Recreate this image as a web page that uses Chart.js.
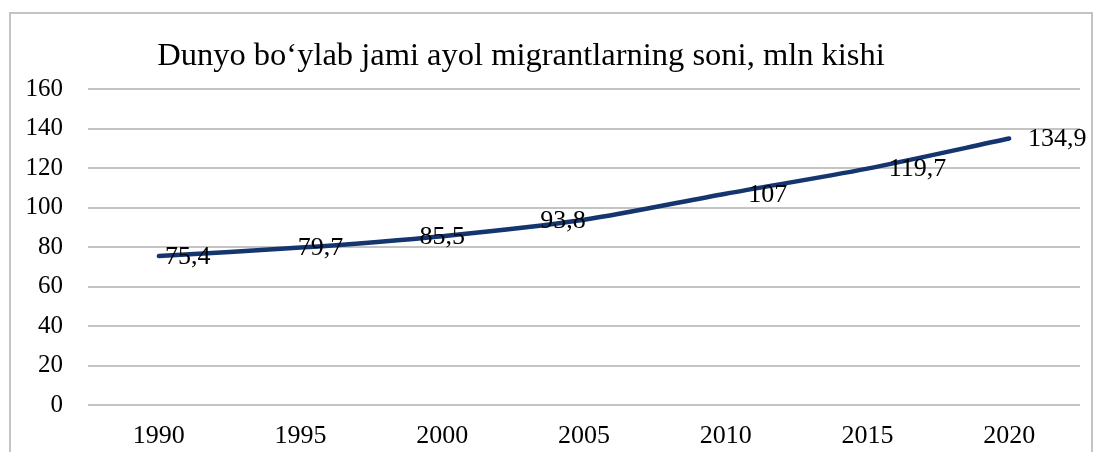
<!DOCTYPE html>
<html>
<head>
<meta charset="utf-8">
<script src="https://cdn.jsdelivr.net/npm/chart.js@4"></script>
<style>
    html, body { margin: 0; padding: 0; background: #fff; }
    #wrap { position: relative; width: 1095px; height: 452px; overflow: hidden; }
    #frame { position: absolute; left: 9px; top: 12px; width: 1084px; height: 460px; border: 2px solid #c4c4c4; box-sizing: border-box; }
    #chart { position: absolute; left: 0; top: 0; }
</style>
</head>
<body>
<div id="wrap">
    <div id="frame"></div>
    <canvas id="chart" width="1095" height="452"></canvas>
</div>
<script>
const years = ["1990", "1995", "2000", "2005", "2010", "2015", "2020"];
const femaleMigrants = [75.4, 79.7, 85.5, 93.8, 107, 119.7, 134.9];
const yTicks = [0, 20, 40, 60, 80, 100, 120, 140, 160];
const chartTitle = "Dunyo bo‘ylab jami ayol migrantlarning soni, mln kishi";

// label nudges (px), like the hand-placed labels in the source
const labelShift = [29, 20, 0, -21, 42, 50, 48];

const serif = "'Liberation Serif', 'Times New Roman', serif";

document.addEventListener("DOMContentLoaded", function () {

    // title + value labels
    const extras = {
        id: "extras",
        afterDatasetsDraw(chart) {
            const ctx = chart.ctx;
            ctx.save();
            ctx.fillStyle = "#000";
            ctx.textAlign = "center";
            ctx.textBaseline = "middle";
            ctx.font = "32.5px " + serif;
            ctx.fillText(chartTitle, 521, 56);

            ctx.font = "26px " + serif;
            const meta = chart.getDatasetMeta(0);
            meta.data.forEach(function (pt, i) {
                const txt = String(femaleMigrants[i]).replace(".", ",");
                ctx.fillText(txt, pt.x + labelShift[i], pt.y + 1);
            });
            ctx.restore();
        }
    };

    const canvas = document.getElementById("chart");
    new Chart(canvas, {
        type: "line",
        data: {
            labels: years,
            datasets: [{
                data: femaleMigrants,
                borderColor: "#15356f",
                borderWidth: 4.5,
                borderCapStyle: "round",
                pointRadius: 0,
                tension: 0.3,
                fill: false
            }]
        },
        options: {
            responsive: false,
            animation: false,
            layout: { padding: { top: 89, right: 15, left: 0, bottom: 0 } },
            plugins: {
                legend: { display: false },
                tooltip: { enabled: false }
            },
            scales: {
                x: {
                    offset: true,
                    grid: { display: false, drawTicks: false },
                    border: { display: false },
                    ticks: { color: "#000", font: { family: serif, size: 26 }, padding: 16, maxRotation: 0 },
                    afterFit: function (s) { s.height = 47; }
                },
                y: {
                    min: 0,
                    max: 160,
                    afterBuildTicks: function (s) { s.ticks = yTicks.map(v => ({ value: v })); },
                    grid: { color: "#c4c4c4", lineWidth: 2, drawTicks: false },
                    border: { display: false },
                    ticks: { color: "#000", font: { family: serif, size: 25 }, padding: 25 },
                    afterFit: function (s) { s.width = 88; }
                }
            }
        },
        plugins: [extras]
    });

});
</script>
</body>
</html>
